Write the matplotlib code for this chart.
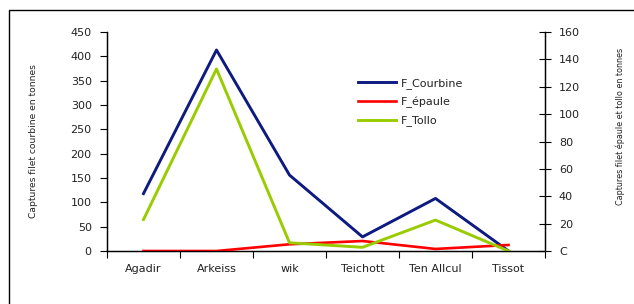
import matplotlib
matplotlib.use("Agg")
import matplotlib.pyplot as plt
from matplotlib.patches import Rectangle

sites = ["Agadir", "Arkeiss", "wik", "Teichott", "Ten Allcul", "Tissot"]
courbine = [118, 413, 156, 29, 108, 0]      # left axis
epaule = [0, 0, 4.9, 7.3, 1.5, 4.4]         # right axis
tollo = [23, 133, 6, 2.7, 22.6, 0]          # right axis

left_ticks = [0, 50, 100, 150, 200, 250, 300, 350, 400, 450]
right_ticks = [0, 20, 40, 60, 80, 100, 120, 140, 160]
right_labels = ["C", "20", "40", "60", "80", "100", "120", "140", "160"]

txt = "#222222"
fig = plt.figure(figsize=(6.34, 3.04), dpi=100)
fig.patches.append(Rectangle((9 / 634, -0.2), 1.2, 1.2 - 10 / 304,
                             transform=fig.transFigure, fill=False,
                             edgecolor="black", linewidth=1.0))

ax = fig.add_axes([107 / 634, 53 / 304, 438 / 634, 219 / 304])
ax2 = ax.twinx()

x = list(range(len(sites)))
l1, = ax.plot(x, courbine, color="#0d1a80", lw=2.1, label="F_Courbine")
l2, = ax2.plot(x, epaule, color="#ff0000", lw=1.9, label="F_épaule")
l3, = ax2.plot(x, tollo, color="#99cc00", lw=2.1, label="F_Tollo")

ax.set_xlim(-0.5, len(sites) - 0.5)
ax.set_ylim(0, 450)
ax2.set_ylim(0, 160)

ax.set_xticks([i - 0.5 for i in range(len(sites) + 1)])
ax.set_xticklabels([])
ax.set_xticks(x, minor=True)
ax.set_xticklabels(sites, minor=True, fontsize=8, color=txt)
ax.tick_params(axis="x", which="minor", length=0, pad=9)
ax.tick_params(axis="x", which="major", length=5, direction="out")

ax.set_yticks(left_ticks)
ax.set_yticklabels([str(v) for v in left_ticks], fontsize=8, color=txt)
ax.tick_params(axis="y", length=5, direction="out", pad=6)
ax2.set_yticks(right_ticks)
ax2.set_yticklabels(right_labels, fontsize=8, color=txt)
ax2.tick_params(axis="y", length=8, direction="inout", pad=6)

for a in (ax, ax2):
    a.spines["top"].set_visible(False)
    a.spines["left"].set_linewidth(0.9)
    a.spines["right"].set_linewidth(0.9)
    a.spines["bottom"].set_linewidth(0.9)

ax.set_ylabel("Captures filet courbine en tonnes", fontsize=6.6, color=txt)
ax.yaxis.set_label_coords(-0.157, 0.5)
ax2.set_ylabel("Captures filet épaule et tollo en tonnes", fontsize=5.8, color=txt)
ax2.yaxis.set_label_coords(1.162, 0.57)

fig.legend([l1, l2, l3], ["F_Courbine", "F_épaule", "F_Tollo"],
           loc="upper left", bbox_to_anchor=(348 / 634, 1 - 68 / 304),
           frameon=False, fontsize=8, handlelength=3.4, labelspacing=0.68,
           handletextpad=0.5, labelcolor=txt)

fig.savefig("out.png", dpi=100)
